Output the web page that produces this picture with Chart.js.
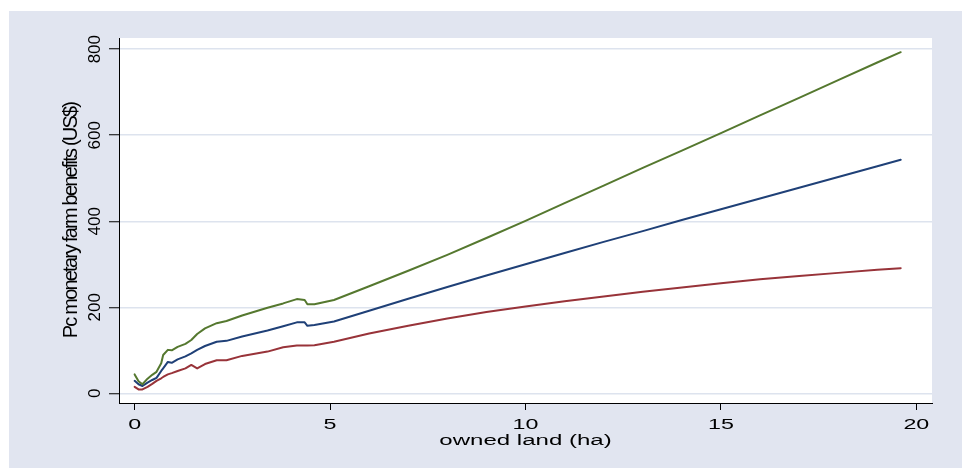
<!DOCTYPE html>
<html>
<head>
<meta charset="utf-8">
<script src="https://cdn.jsdelivr.net/npm/chart.js@4/dist/chart.umd.min.js"></script>
<style>
  html, body { margin: 0; padding: 0; background: #ffffff; }
  #wrap { width: 962px; height: 468px; }
</style>
</head>
<body>
<div id="wrap"><canvas id="chart" width="962" height="468"></canvas></div>
<script>
// Owned land (ha) at which the fitted benefit curves are evaluated
const landHa = [0, 0.1, 0.2, 0.33, 0.45, 0.56, 0.68, 0.73, 0.85, 0.95, 1.1, 1.3, 1.45, 1.6, 1.8,
  2.1, 2.35, 2.75, 3.4, 3.8, 4.15, 4.35, 4.42, 4.6, 5.1, 6, 7, 8, 9, 10, 11, 12, 13, 14, 15,
  16, 17, 18, 19, 19.6];

// Per capita monetary farm benefits (US$), upper curve (green)
const benefitUpper = [44, 28, 21, 34, 43, 50, 70, 89, 101, 100, 108, 115, 124, 138, 151,
  163, 168, 181, 199, 209, 219, 217, 207, 207, 217, 249, 285, 322, 361, 401, 442, 483, 524, 564, 605,
  646, 687, 728, 769, 793];

// Middle curve (navy)
const benefitMiddle = [29, 21, 17, 25, 31, 36, 52, 58, 73, 71, 79, 86, 93, 101, 110,
  120, 122, 132, 146, 156, 165, 165, 157, 159, 167, 192, 220, 247, 274, 300, 326, 352, 377, 403, 428,
  453, 478, 503, 528, 543];

// Lower curve (maroon)
const benefitLower = [15, 9, 9, 15, 22, 29, 35, 38, 44, 47, 52, 58, 66, 58, 68,
  77, 77, 87, 97, 107, 111, 111, 111, 112, 120, 139, 157, 174, 189, 202, 214, 225, 236, 246, 256,
  265, 273, 280, 287, 291];

const xTickValues = [0, 5, 10, 15, 20];
const yTickValues = [0, 200, 400, 600, 800];
const xAxisTitle = 'owned land (ha)';
const yAxisTitle = 'Pc monetary farm benefits (US$)';

const SANS = '"Liberation Sans", Arial, Helvetica, sans-serif';

const toPoints = values => values.map((v, i) => ({ x: landHa[i], y: v }));

// Graph region, white plot region and the stretched axis texts
const framePlugin = {
  id: 'frame',
  beforeDraw(chart) {
    const { ctx, chartArea: a, width, height } = chart;
    ctx.save();
    ctx.fillStyle = '#ffffff';
    ctx.fillRect(0, 0, width, height);
    ctx.fillStyle = '#e1e5f0';
    ctx.fillRect(9, 11, width - 9, height - 11);
    ctx.fillStyle = '#ffffff';
    ctx.fillRect(a.left, a.top, a.right - a.left, a.bottom - a.top);
    ctx.restore();
  },
  afterDraw(chart) {
    const { ctx, chartArea: a } = chart;
    const xs = chart.scales.x;
    ctx.save();
    ctx.fillStyle = '#000000';
    ctx.textAlign = 'center';
    ctx.textBaseline = 'alphabetic';
    ctx.font = '15.5px ' + SANS;
    xs.ticks.forEach(t => {
      ctx.save();
      ctx.translate(xs.getPixelForValue(t.value), xs.top + 25.5);
      ctx.scale(1.5, 1);
      ctx.fillText(String(t.value), 0, 0);
      ctx.restore();
    });
    ctx.save();
    ctx.translate((a.left + a.right) / 2, xs.top + 42);
    ctx.scale(1.55, 1);
    ctx.fillText(xAxisTitle, 0, 0);
    ctx.restore();

    // vertical axis title, tightly set
    ctx.save();
    ctx.translate(77, (a.top + a.bottom) / 2);
    ctx.rotate(-Math.PI / 2);
    ctx.font = '20px ' + SANS;
    if ('letterSpacing' in ctx) ctx.letterSpacing = '-1.8px';
    ctx.fillText(yAxisTitle, 0, 0);
    ctx.restore();
    ctx.restore();
  }
};

new Chart(document.getElementById('chart'), {
  type: 'line',
  data: {
    datasets: [
      { label: 'upper', data: toPoints(benefitUpper), borderColor: '#55782f', borderWidth: 2 },
      { label: 'middle', data: toPoints(benefitMiddle), borderColor: '#1f4077', borderWidth: 2 },
      { label: 'lower', data: toPoints(benefitLower), borderColor: '#983339', borderWidth: 2 }
    ]
  },
  options: {
    responsive: false,
    animation: false,
    devicePixelRatio: 1,
    layout: { padding: { left: 0, right: 30, top: 38, bottom: 0 } },
    elements: {
      point: { radius: 0, hoverRadius: 0 },
      line: { tension: 0, fill: false, borderCapStyle: 'round', borderJoinStyle: 'round' }
    },
    plugins: {
      legend: { display: false },
      tooltip: { enabled: false },
      title: { display: false }
    },
    events: [],
    scales: {
      x: {
        type: 'linear',
        min: -0.4,
        max: 20.4,
        afterBuildTicks: s => { s.ticks = xTickValues.map(v => ({ value: v })); },
        afterFit: s => { s.height = 65; },
        ticks: { display: false },
        grid: { drawOnChartArea: false, drawTicks: true, tickLength: 7, tickColor: '#000000', tickWidth: 1 },
        border: { display: true, color: '#000000', width: 1 }
      },
      y: {
        type: 'linear',
        min: -22.5,
        max: 826,
        afterBuildTicks: s => { s.ticks = yTickValues.map(v => ({ value: v })); },
        afterFit: s => { s.width = 119; },
        ticks: {
          color: '#000000',
          font: { family: SANS, size: 17 },
          minRotation: 90,
          maxRotation: 90,
          crossAlign: 'center',
          padding: 0
        },
        grid: { color: '#dde3ee', lineWidth: 1.5, drawTicks: true, tickLength: 10, tickColor: '#000000', tickWidth: 1 },
        border: { display: true, color: '#000000', width: 1 }
      }
    }
  },
  plugins: [framePlugin]
});
</script>
</body>
</html>
